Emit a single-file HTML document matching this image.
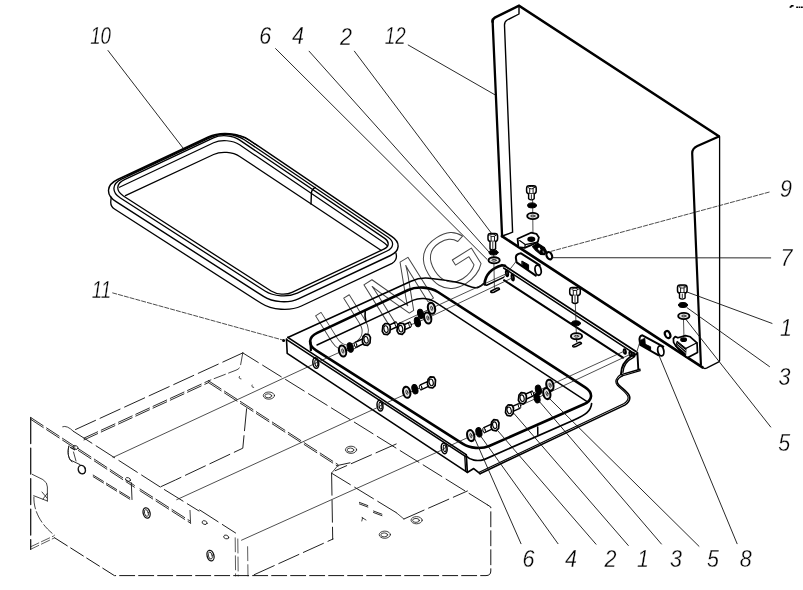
<!DOCTYPE html>
<html><head><meta charset="utf-8"><title>Exploded view</title>
<style>
html,body{margin:0;padding:0;background:#fff;}
body{width:803px;height:590px;overflow:hidden;}
svg{display:block;}
.lbl text{font-family:"Liberation Sans",sans-serif;font-style:italic;font-size:23.4px;fill:#000;stroke:#fff;stroke-width:0.3px;}
</style></head><body>
<svg width="803" height="590" viewBox="0 0 803 590" fill="none" stroke-linecap="round" stroke-linejoin="round">
<rect x="0" y="0" width="803" height="590" style="fill:#fff" stroke="none"/>
<text transform="translate(336.5,359.4) rotate(-32) scale(1.0,1.0)" font-family="Liberation Sans, sans-serif" font-size="70" fill="none" stroke="#444" stroke-width="0.9">U</text>
<text transform="translate(384.1,329.1) rotate(-32) scale(1.11,1.0)" font-family="Liberation Sans, sans-serif" font-size="70" fill="none" stroke="#444" stroke-width="0.9">M</text>
<text transform="translate(439.4,299.3) rotate(-32) scale(1.1,1.1)" font-family="Liberation Sans, sans-serif" font-size="70" fill="none" stroke="#444" stroke-width="0.9">G</text>
<path d="M116.1,201.7C105.4,194.8 106.1,184.9 117.6,179.5L208.2,137C220.2,131.4 238.8,132.8 249.7,140.3L392,236.7C400.7,242.6 400,251 390.5,255.5L298.4,298.8C288.4,303.5 272.8,302.4 263.5,296.4Z" stroke="#000" stroke-width="1.4" />
<path d="M120.4,198C111.3,192.2 111.9,183.8 121.6,179.2L211.4,137.1C220.9,132.6 235.6,133.8 244.3,139.7L388.1,237.2C394.5,241.5 394,247.7 387,251L297.3,293.2C288.1,297.5 273.6,296.6 265,291Z" stroke="#000" stroke-width="1.3" />
<path d="M123.4,196C115.5,190.9 116,183.5 124.5,179.6L213.4,137.8C220.9,134.3 232.6,135.2 239.4,139.9L384.7,238.4C389.7,241.8 389.3,246.6 383.8,249.2L292,292.3C286.1,295.2 276.7,294.5 271.1,291Z" stroke="#000" stroke-width="1.3" />
<path d="M127.5,175.6L209.6,137.1C221.1,131.7 238.9,133.2 249.4,140.3L257.5,145.8" stroke="#000" stroke-width="1.0" />
<path d="M119.5,187.3L213.6,142.8C221.1,139.3 232.7,140.2 239.6,144.8L382.6,241.8 Q385.5,243.6 387.6,246" stroke="#000" stroke-width="1.2" />
<path d="M125.4,195.6L213.6,154.5C221.1,151 232.8,151.9 239.7,156.5L381.3,250.5" stroke="#000" stroke-width="1.3" />
<path d="M111.2,197.2L110.8,201.3C110.5,204.1 112.2,207.5 114.5,209L261.2,303.3C271.9,310.2 289.9,311.4 301.4,306L392.1,263.4C395.1,261.9 397,258.2 396.3,254.9L395.9,252.8" stroke="#000" stroke-width="1.3" />
<path d="M315.3,187.4 Q311.6,189.5 311.4,193 L311,204" stroke="#000" stroke-width="1.4" />
<path d="M492.6,22 Q492.3,19 494.8,17.6 L519,5.6 L718.9,136.3" stroke="#000" stroke-width="2.5" stroke-linejoin="miter"/>
<path d="M492.6,21L502.1,236.4" stroke="#000" stroke-width="2.3" />
<path d="M519,5.8 L519,14 L507.2,20 Q504.3,21.6 504.5,25.5 L512.6,232.2 L502.2,236" stroke="#000" stroke-width="1.4" />
<path d="M501.9,236.2L702.5,367.3" stroke="#000" stroke-width="2.7" />
<path d="M718.9,136.4 L697.4,146 Q692.1,148.4 692.2,153.4 L694.5,210 L700.9,364.5" stroke="#000" stroke-width="2.2" />
<path d="M719.6,136.8 L719.6,360.5 Q719.5,361.6 718.3,362.2 L706.5,368.2 Q704.5,369 702.6,367.8" stroke="#000" stroke-width="1.3" />
<path d="M287.8,337.5 L411,281.3 C418,278 423,277.6 429,278.2 C440,279.3 452,280.6 461,283.2 C468,285.3 471,287.8 475.5,287.8 C479,287.8 481.5,285.6 483.5,283.6" stroke="#000" stroke-width="1.5" />
<path d="M287.8,337.4L466.2,454.6" stroke="#000" stroke-width="1.7" />
<path d="M286.6,339.6L465.8,456.6" stroke="#000" stroke-width="1.5" />
<path d="M286.5,339L287.2,353.4L467.3,472.4" stroke="#000" stroke-width="1.6" />
<path d="M466.3,454.8L467.3,472.4L473.7,468.6L480,473.7" stroke="#000" stroke-width="1.7" />
<path d="M464.8,456.5L465.6,470.5" stroke="#000" stroke-width="1.3" />
<circle cx="283.6" cy="340.6" r="1.5" fill="#000" stroke="none"/>
<ellipse cx="315.8" cy="363" rx="2.9" ry="5.4" transform="rotate(-8 315.8 363)" stroke="#000" stroke-width="1.5" fill="none"/>
<ellipse cx="316.3" cy="363" rx="1.4" ry="3.4" transform="rotate(-8 316.3 363)" stroke="#000" stroke-width="1.0" fill="none"/>
<ellipse cx="380" cy="405.7" rx="2.9" ry="5.4" transform="rotate(-8 380 405.7)" stroke="#000" stroke-width="1.5" fill="none"/>
<ellipse cx="380.5" cy="405.7" rx="1.4" ry="3.4" transform="rotate(-8 380.5 405.7)" stroke="#000" stroke-width="1.0" fill="none"/>
<ellipse cx="444.2" cy="448.3" rx="2.9" ry="5.4" transform="rotate(-8 444.2 448.3)" stroke="#000" stroke-width="1.5" fill="none"/>
<ellipse cx="444.7" cy="448.3" rx="1.4" ry="3.4" transform="rotate(-8 444.7 448.3)" stroke="#000" stroke-width="1.0" fill="none"/>
<path d="M480,473.7 L624.8,405.1 C628,403 630.5,400 629.6,396.5 C628.5,392 622,388.5 618.5,384.5 C616,381.5 617,378.5 622.3,375.9" stroke="#000" stroke-width="1.6" />
<path d="M479.2,472.2 L623.6,403.8 C626.5,402 628.6,399.5 628,396.8 C627,392.6 620.5,389 617.2,385 C614.6,381.6 615.8,377.6 621,374.3" stroke="#000" stroke-width="1.2" />
<path d="M316.1,350.3C307.7,344.9 308.2,337.2 317.2,332.9L408.2,290C416.7,286 430,286.9 437.9,292L585.2,387.3C593.5,392.7 592.9,400.3 583.8,404.3L489.2,446C481.6,449.3 469.8,448.4 462.9,443.9Z" stroke="#000" stroke-width="2.6" />
<path d="M310.5,342 L310.9,350.2" stroke="#000" stroke-width="2.2" />
<path d="M317,345L413.5,300.2C419.5,297.4 428.9,298.1 434.5,301.7L586.7,401.3" stroke="#000" stroke-width="1.4" />
<path d="M466.5,456.3 C470,460.2 477,461.6 484,459.6 L574,420 C585,415 591,411.5 591.6,403.5" stroke="#000" stroke-width="1.7" />
<path d="M537.7,427L537.8,434.4" stroke="#000" stroke-width="1.5" />
<path d="M365.2,311.6 Q364.6,315 365.8,320.6" stroke="#000" stroke-width="1.6" />
<path d="M504.6,265.8L636,351.6" stroke="#000" stroke-width="1.8" />
<path d="M503.6,268L634.4,353.6" stroke="#000" stroke-width="1.5" />
<path d="M504,280.2L623,357.6" stroke="#000" stroke-width="2.0" />
<path d="M484.6,284.2 C485,275.4 491.4,268 502,265.2 L505,265.8" stroke="#000" stroke-width="2.7" />
<path d="M484.2,284.6L486.6,285.2L503.6,277.4" stroke="#000" stroke-width="1.5" />
<ellipse cx="507" cy="273.3" rx="1.1" ry="3" transform="rotate(-8 507 273.3)" stroke="#000" stroke-width="1.9" fill="none"/>
<ellipse cx="512.7" cy="277.3" rx="1.1" ry="3.2" transform="rotate(-8 512.7 277.3)" stroke="#000" stroke-width="1.9" fill="none"/>
<path d="M621,373.8 C621.2,366 625.6,360 631,356.3 L636.6,354 L637.4,352.7 L638.3,369.2" stroke="#000" stroke-width="1.9" />
<path d="M622.9,372.4 C623.4,365.5 627.5,360.2 633.6,357.3" stroke="#000" stroke-width="1.4" />
<path d="M621.2,374.6L640,369.3" stroke="#000" stroke-width="1.5" />
<path d="M622,376L640.2,370.6" stroke="#000" stroke-width="1.3" />
<ellipse cx="624.8" cy="351.5" rx="1.1" ry="2.4" transform="rotate(-8 624.8 351.5)" stroke="#000" stroke-width="1.8" fill="none"/>
<ellipse cx="630.5" cy="353.8" rx="1.1" ry="2.4" transform="rotate(-8 630.5 353.8)" stroke="#000" stroke-width="1.8" fill="none"/>
<ellipse cx="633.8" cy="354.6" rx="0.9" ry="2.2" transform="rotate(-8 633.8 354.6)" stroke="#000" stroke-width="1.4" fill="none"/>
<path d="M532.6,199L533,238" stroke="#222" stroke-width="0.8" />
<rect x="526.6" y="185.7" width="9.6" height="8" rx="2.6" stroke="#000" stroke-width="1.5" fill="#fff"/>
<ellipse cx="531.4" cy="187.6" rx="3" ry="1.2" transform="rotate(0 531.4 187.6)" stroke="#000" stroke-width="0.9" fill="none"/>
<path d="M529.7,189.1L529.7,193.7" stroke="#000" stroke-width="0.9" />
<path d="M533.1,189.1L533.1,193.7" stroke="#000" stroke-width="0.9" />
<path d="M528.6,193.7 L528.6,198.7 Q531.4,201 534.2,198.7 L534.2,193.7" stroke="#000" stroke-width="1.4" fill="#fff"/>
<path d="M531.4,194.7L531.4,198.7" stroke="#000" stroke-width="0.8" />
<ellipse cx="532" cy="205.4" rx="4.5" ry="2.5" transform="rotate(0 532 205.4)" stroke="#000" stroke-width="1.0" fill="#000"/>
<ellipse cx="532.8" cy="216" rx="5.6" ry="3.1" transform="rotate(0 532.8 216)" stroke="#000" stroke-width="1.9" fill="#e4e4e4"/>
<ellipse cx="532.8" cy="216" rx="2.2" ry="0.9" transform="rotate(0 532.8 216)" stroke="#333" stroke-width="1.0" fill="none"/>
<path d="M493.6,248L494.4,288" stroke="#222" stroke-width="0.8" />
<rect x="488" y="233.4" width="9.6" height="8" rx="2.6" stroke="#000" stroke-width="1.5" fill="#fff"/>
<ellipse cx="492.8" cy="235.3" rx="3" ry="1.2" transform="rotate(0 492.8 235.3)" stroke="#000" stroke-width="0.9" fill="none"/>
<path d="M491.1,236.8L491.1,241.4" stroke="#000" stroke-width="0.9" />
<path d="M494.5,236.8L494.5,241.4" stroke="#000" stroke-width="0.9" />
<path d="M490,241.4 L490,248.9 Q492.8,251.2 495.6,248.9 L495.6,241.4" stroke="#000" stroke-width="1.4" fill="#fff"/>
<path d="M492.8,242.4L492.8,248.9" stroke="#000" stroke-width="0.8" />
<ellipse cx="493.5" cy="252.5" rx="4.5" ry="2.5" transform="rotate(0 493.5 252.5)" stroke="#000" stroke-width="1.0" fill="#000"/>
<ellipse cx="494.1" cy="260.3" rx="5.6" ry="3.1" transform="rotate(0 494.1 260.3)" stroke="#000" stroke-width="1.9" fill="#e4e4e4"/>
<ellipse cx="494.1" cy="260.3" rx="2.2" ry="0.9" transform="rotate(0 494.1 260.3)" stroke="#333" stroke-width="1.0" fill="none"/>
<path d="M490.8,291.2 L496.6,288.2 Q499.4,287.4 499.4,289.2 L493.8,292.2 Q490.4,293.2 490.8,291.2Z" stroke="#000" stroke-width="1.6" />
<path d="M575.3,303L576.4,336" stroke="#222" stroke-width="0.8" />
<rect x="569.7" y="287.4" width="10.6" height="8" rx="2.6" stroke="#000" stroke-width="1.5" fill="#fff"/>
<ellipse cx="575" cy="289.3" rx="3" ry="1.2" transform="rotate(0 575 289.3)" stroke="#000" stroke-width="0.9" fill="none"/>
<path d="M573.3,290.8L573.3,295.4" stroke="#000" stroke-width="0.9" />
<path d="M576.7,290.8L576.7,295.4" stroke="#000" stroke-width="0.9" />
<path d="M572.2,295.4 L572.2,302.4 Q575,304.7 577.8,302.4 L577.8,295.4" stroke="#000" stroke-width="1.4" fill="#fff"/>
<path d="M575,296.4L575,302.4" stroke="#000" stroke-width="0.8" />
<ellipse cx="575.9" cy="323.3" rx="4.5" ry="2.5" transform="rotate(0 575.9 323.3)" stroke="#000" stroke-width="1.0" fill="#000"/>
<ellipse cx="576.5" cy="336.2" rx="5.6" ry="3.1" transform="rotate(0 576.5 336.2)" stroke="#000" stroke-width="1.9" fill="#e4e4e4"/>
<ellipse cx="576.5" cy="336.2" rx="2.2" ry="0.9" transform="rotate(0 576.5 336.2)" stroke="#333" stroke-width="1.0" fill="none"/>
<path d="M576.5,339 L576.8,342" stroke="#000" stroke-width="1.0" />
<path d="M572.8,345.6 L578.6,342.6 Q581.4,341.8 581.4,343.6 L575.8,346.6 Q572.4,347.6 572.8,345.6Z" stroke="#000" stroke-width="1.6" />
<path d="M683.4,316L684,338" stroke="#222" stroke-width="0.8" />
<rect x="677.5" y="285" width="9.6" height="8" rx="2.6" stroke="#000" stroke-width="1.5" fill="#fff"/>
<ellipse cx="682.3" cy="286.9" rx="3" ry="1.2" transform="rotate(0 682.3 286.9)" stroke="#000" stroke-width="0.9" fill="none"/>
<path d="M680.6,288.4L680.6,293" stroke="#000" stroke-width="0.9" />
<path d="M684,288.4L684,293" stroke="#000" stroke-width="0.9" />
<path d="M679.5,293 L679.5,298 Q682.3,300.3 685.1,298 L685.1,293" stroke="#000" stroke-width="1.4" fill="#fff"/>
<path d="M682.3,294L682.3,298" stroke="#000" stroke-width="0.8" />
<ellipse cx="683" cy="305" rx="4.5" ry="2.5" transform="rotate(0 683 305)" stroke="#000" stroke-width="1.0" fill="#000"/>
<ellipse cx="683.8" cy="316" rx="5.6" ry="3.1" transform="rotate(0 683.8 316)" stroke="#000" stroke-width="1.9" fill="#e4e4e4"/>
<ellipse cx="683.8" cy="316" rx="2.2" ry="0.9" transform="rotate(0 683.8 316)" stroke="#333" stroke-width="1.0" fill="none"/>
<path d="M315.8,363L366,340.4" stroke="#222" stroke-width="0.8" />
<path d="M380,405.7L433,382" stroke="#222" stroke-width="0.8" />
<path d="M444.2,448.3L497,424.3" stroke="#222" stroke-width="0.8" />
<path d="M431.5,308.3L507,273.4" stroke="#222" stroke-width="0.8" />
<path d="M427.7,318L512.8,277.6" stroke="#222" stroke-width="0.8" />
<path d="M549.9,385.2L624.8,350.9" stroke="#222" stroke-width="0.8" />
<path d="M546.8,393.6L630.6,354.2" stroke="#222" stroke-width="0.8" />
<path d="M386,329.3L431.5,308.3" stroke="#222" stroke-width="0.8" />
<path d="M401,328.8L427.7,318" stroke="#222" stroke-width="0.8" />
<path d="M509.5,410.4L546.8,393.6" stroke="#222" stroke-width="0.8" />
<path d="M522.4,398.2L549.9,385.2" stroke="#222" stroke-width="0.8" />
<ellipse cx="342.6" cy="351" rx="3.5" ry="5.6" transform="rotate(-14 342.6 351)" stroke="#000" stroke-width="2.1" fill="#e4e4e4"/>
<ellipse cx="342.8" cy="351" rx="0.9" ry="2.2" transform="rotate(-14 342.8 351)" stroke="#333" stroke-width="0.9" fill="none"/>
<ellipse cx="350.2" cy="347.5" rx="2.9" ry="4.8" transform="rotate(-14 350.2 347.5)" stroke="#000" stroke-width="1.0" fill="#000"/>
<path d="M363.4,338.5L355.2,342.3L355.8,347.3L364,343.5Z" stroke="#000" stroke-width="1.4" fill="#fff"/>
<ellipse cx="355.5" cy="344.8" rx="1.2" ry="2.5" transform="rotate(-14 355.5 344.8)" stroke="#000" stroke-width="0.9" fill="#fff"/>
<path d="M363,336.6L365.2,334.2L368.8,334.6L370.4,337.4L370,343L367.6,345.4L364,344.8L362.4,342Z" stroke="#000" stroke-width="1.7" fill="#fff" stroke-linejoin="round"/>
<ellipse cx="366.1" cy="339.8" rx="2" ry="3.4" transform="rotate(-14 366.1 339.8)" stroke="#000" stroke-width="1.1" fill="none"/>
<ellipse cx="406.7" cy="392.3" rx="3.5" ry="5.6" transform="rotate(-14 406.7 392.3)" stroke="#000" stroke-width="2.1" fill="#e4e4e4"/>
<ellipse cx="406.9" cy="392.3" rx="0.9" ry="2.2" transform="rotate(-14 406.9 392.3)" stroke="#333" stroke-width="0.9" fill="none"/>
<ellipse cx="414.9" cy="389.2" rx="2.9" ry="4.8" transform="rotate(-14 414.9 389.2)" stroke="#000" stroke-width="1.0" fill="#000"/>
<path d="M428.5,381.1L420.3,384.9L420.9,389.9L429.1,386.1Z" stroke="#000" stroke-width="1.4" fill="#fff"/>
<ellipse cx="420.6" cy="387.4" rx="1.2" ry="2.5" transform="rotate(-14 420.6 387.4)" stroke="#000" stroke-width="0.9" fill="#fff"/>
<path d="M428.1,379.2L430.3,376.8L433.9,377.2L435.5,380L435.1,385.6L432.7,388L429.1,387.4L427.5,384.6Z" stroke="#000" stroke-width="1.7" fill="#fff" stroke-linejoin="round"/>
<ellipse cx="431.2" cy="382.4" rx="2" ry="3.4" transform="rotate(-14 431.2 382.4)" stroke="#000" stroke-width="1.1" fill="none"/>
<ellipse cx="470.7" cy="435.6" rx="3.5" ry="5.6" transform="rotate(-14 470.7 435.6)" stroke="#000" stroke-width="2.1" fill="#e4e4e4"/>
<ellipse cx="470.9" cy="435.6" rx="0.9" ry="2.2" transform="rotate(-14 470.9 435.6)" stroke="#333" stroke-width="0.9" fill="none"/>
<ellipse cx="478.9" cy="432.3" rx="2.9" ry="4.8" transform="rotate(-14 478.9 432.3)" stroke="#000" stroke-width="1.0" fill="#000"/>
<path d="M492,423.9L483.8,427.7L484.4,432.7L492.6,428.9Z" stroke="#000" stroke-width="1.4" fill="#fff"/>
<ellipse cx="484.1" cy="430.2" rx="1.2" ry="2.5" transform="rotate(-14 484.1 430.2)" stroke="#000" stroke-width="0.9" fill="#fff"/>
<path d="M491.6,422L493.8,419.6L497.4,420L499,422.8L498.6,428.4L496.2,430.8L492.6,430.2L491,427.4Z" stroke="#000" stroke-width="1.7" fill="#fff" stroke-linejoin="round"/>
<ellipse cx="494.7" cy="425.2" rx="2" ry="3.4" transform="rotate(-14 494.7 425.2)" stroke="#000" stroke-width="1.1" fill="none"/>
<ellipse cx="431.5" cy="308.3" rx="3.5" ry="5.6" transform="rotate(-14 431.5 308.3)" stroke="#000" stroke-width="2.1" fill="#e4e4e4"/>
<ellipse cx="431.7" cy="308.3" rx="0.9" ry="2.2" transform="rotate(-14 431.7 308.3)" stroke="#333" stroke-width="0.9" fill="none"/>
<ellipse cx="420.6" cy="313.9" rx="2.9" ry="4.8" transform="rotate(-14 420.6 313.9)" stroke="#000" stroke-width="1.0" fill="#000"/>
<path d="M388.7,325.4L396,322L396.6,327L389.3,330.4Z" stroke="#000" stroke-width="1.4" fill="#fff"/>
<ellipse cx="396.3" cy="324.5" rx="1.2" ry="2.5" transform="rotate(-14 396.3 324.5)" stroke="#000" stroke-width="0.9" fill="#fff"/>
<path d="M382.9,325.9L385.1,323.5L388.7,323.9L390.3,326.7L389.9,332.3L387.5,334.7L383.9,334.1L382.3,331.3Z" stroke="#000" stroke-width="1.7" fill="#fff" stroke-linejoin="round"/>
<ellipse cx="386" cy="329.1" rx="2" ry="3.4" transform="rotate(-14 386 329.1)" stroke="#000" stroke-width="1.1" fill="none"/>
<ellipse cx="427.7" cy="318" rx="3.5" ry="5.6" transform="rotate(-14 427.7 318)" stroke="#000" stroke-width="2.1" fill="#e4e4e4"/>
<ellipse cx="427.9" cy="318" rx="0.9" ry="2.2" transform="rotate(-14 427.9 318)" stroke="#333" stroke-width="0.9" fill="none"/>
<ellipse cx="417.4" cy="322" rx="2.9" ry="4.8" transform="rotate(-14 417.4 322)" stroke="#000" stroke-width="1.0" fill="#000"/>
<path d="M403.4,325L409.8,322.1L410.4,327.1L404,330Z" stroke="#000" stroke-width="1.4" fill="#fff"/>
<ellipse cx="410.1" cy="324.6" rx="1.2" ry="2.5" transform="rotate(-14 410.1 324.6)" stroke="#000" stroke-width="0.9" fill="#fff"/>
<path d="M397.6,325.5L399.8,323.1L403.4,323.5L405,326.3L404.6,331.9L402.2,334.3L398.6,333.7L397,330.9Z" stroke="#000" stroke-width="1.7" fill="#fff" stroke-linejoin="round"/>
<ellipse cx="400.7" cy="328.7" rx="2" ry="3.4" transform="rotate(-14 400.7 328.7)" stroke="#000" stroke-width="1.1" fill="none"/>
<ellipse cx="549.9" cy="385.2" rx="3.5" ry="5.6" transform="rotate(-14 549.9 385.2)" stroke="#000" stroke-width="2.1" fill="#e4e4e4"/>
<ellipse cx="550.1" cy="385.2" rx="0.9" ry="2.2" transform="rotate(-14 550.1 385.2)" stroke="#333" stroke-width="0.9" fill="none"/>
<ellipse cx="538.4" cy="389.8" rx="2.9" ry="4.8" transform="rotate(-14 538.4 389.8)" stroke="#000" stroke-width="1.0" fill="#000"/>
<path d="M524.8,394.5L532.1,391.1L532.7,396.1L525.4,399.5Z" stroke="#000" stroke-width="1.4" fill="#fff"/>
<ellipse cx="532.4" cy="393.6" rx="1.2" ry="2.5" transform="rotate(-14 532.4 393.6)" stroke="#000" stroke-width="0.9" fill="#fff"/>
<path d="M519,395L521.2,392.6L524.8,393L526.4,395.8L526,401.4L523.6,403.8L520,403.2L518.4,400.4Z" stroke="#000" stroke-width="1.7" fill="#fff" stroke-linejoin="round"/>
<ellipse cx="522.1" cy="398.2" rx="2" ry="3.4" transform="rotate(-14 522.1 398.2)" stroke="#000" stroke-width="1.1" fill="none"/>
<ellipse cx="546.8" cy="393.6" rx="3.5" ry="5.6" transform="rotate(-14 546.8 393.6)" stroke="#000" stroke-width="2.1" fill="#e4e4e4"/>
<ellipse cx="547" cy="393.6" rx="0.9" ry="2.2" transform="rotate(-14 547 393.6)" stroke="#333" stroke-width="0.9" fill="none"/>
<ellipse cx="537" cy="398.2" rx="2.9" ry="4.8" transform="rotate(-14 537 398.2)" stroke="#000" stroke-width="1.0" fill="#000"/>
<path d="M511.9,406.7L519.2,403.3L519.8,408.3L512.5,411.7Z" stroke="#000" stroke-width="1.4" fill="#fff"/>
<ellipse cx="519.5" cy="405.8" rx="1.2" ry="2.5" transform="rotate(-14 519.5 405.8)" stroke="#000" stroke-width="0.9" fill="#fff"/>
<path d="M506.1,407.2L508.3,404.8L511.9,405.2L513.5,408L513.1,413.6L510.7,416L507.1,415.4L505.5,412.6Z" stroke="#000" stroke-width="1.7" fill="#fff" stroke-linejoin="round"/>
<ellipse cx="509.2" cy="410.4" rx="2" ry="3.4" transform="rotate(-14 509.2 410.4)" stroke="#000" stroke-width="1.1" fill="none"/>
<path d="M539.6,265.2 L521,253.3 Q515,253.9 516,258.9 L516.6,262.4 L535.8,275.6" stroke="#000" stroke-width="2.0" fill="#fff"/>
<ellipse cx="538.1" cy="270.2" rx="3" ry="5.1" transform="rotate(-12 538.1 270.2)" stroke="#000" stroke-width="1.8" fill="#fff"/>
<path d="M522.2,261.2L528.6,264.8L528.6,269.6L522.2,266Z" stroke="#000" stroke-width="1.0" fill="#000"/>
<path d="M663.3,346.6 L642.4,335.3 Q638.7,335.9 639.7,341.1 L640.3,345 L658.2,355.2" stroke="#000" stroke-width="2.0" fill="#fff"/>
<ellipse cx="660.8" cy="350.9" rx="3" ry="5.1" transform="rotate(-12 660.8 350.9)" stroke="#000" stroke-width="1.8" fill="#fff"/>
<path d="M645.4,344.3L650.6,346.8L650.6,350.2L645.4,347.6Z" stroke="#000" stroke-width="1.0" fill="#000"/>
<path d="M640.2,340.4L644.8,338.2L645.6,347.6L640.6,344.9Z" stroke="#000" stroke-width="0.8" fill="#000"/>
<path d="M516,261.5L504,277" stroke="#222" stroke-width="0.8" />
<path d="M639.5,343L636.5,353" stroke="#222" stroke-width="0.8" />
<path d="M517.6,238.8L531,232.7L536.4,233.8L538.9,237.4L537.8,242L531,245.2L524.6,247.8L518.4,247.2Z" stroke="#000" stroke-width="1.8" fill="#fff" stroke-linejoin="round"/>
<path d="M519.6,240.6L525.2,244.6L524.8,247.6" stroke="#000" stroke-width="1.2" />
<path d="M525.2,244.6L537.4,242.2" stroke="#000" stroke-width="1.2" />
<ellipse cx="531.3" cy="239.2" rx="3.3" ry="2.1" transform="rotate(0 531.3 239.2)" stroke="#000" stroke-width="1.4" fill="#000"/>
<path d="M532.6,246.6L537.6,243.2L544.2,247.4L546.4,251.4L544.4,254.6L540.6,254.4L536,250.6Z" stroke="#000" stroke-width="1.2" fill="#000" stroke-linejoin="round"/>
<ellipse cx="539.3" cy="249.2" rx="1.5" ry="2" transform="rotate(-30 539.3 249.2)" stroke="#000" stroke-width="0.8" fill="#fff"/>
<ellipse cx="543.4" cy="251.8" rx="0.9" ry="1.5" transform="rotate(-30 543.4 251.8)" stroke="#000" stroke-width="0.6" fill="#bbb"/>
<ellipse cx="549.3" cy="255.7" rx="2.6" ry="3.8" transform="rotate(-25 549.3 255.7)" stroke="#000" stroke-width="2.2" fill="none"/>
<path d="M673.4,338.6L675.2,336.6L677.9,337.8L685.5,335.6L690.2,336.8L697,342.8L697.5,352.4L687.9,357.6L685.4,356.4L676,346.2L673.6,342.4Z" stroke="#000" stroke-width="1.7" fill="#fff" stroke-linejoin="round"/>
<path d="M677.4,341.4L686,348.4L685.6,356.4L676,346.4Z" stroke="#000" stroke-width="1.0" fill="#000"/>
<path d="M677.6,343.8L685.8,350.6" stroke="#fff" stroke-width="0.7" />
<path d="M677.4,345.8L685.6,353" stroke="#fff" stroke-width="0.7" />
<path d="M686,348.4L697,342.8" stroke="#000" stroke-width="1.2" />
<ellipse cx="683.6" cy="339.7" rx="2.8" ry="1.7" transform="rotate(0 683.6 339.7)" stroke="#000" stroke-width="1.3" fill="#000"/>
<ellipse cx="667.6" cy="334.6" rx="2.5" ry="3.7" transform="rotate(-25 667.6 334.6)" stroke="#000" stroke-width="2.2" fill="none"/>
<path d="M30.7,417.5L30.7,549.3" stroke="#151515" stroke-width="1.25" stroke-dasharray="26 4.5"/>
<path d="M30.6,549.3 L54.6,537.8 M30.6,546.8 L53.6,536" stroke="#151515" stroke-width="0.7" stroke-dasharray="9 3"/>
<path d="M54.6,537.8 L114.4,575.6 L486,575.6 Q490.8,575.6 490.8,571 L490.8,507 L487.7,505" stroke="#151515" stroke-width="1.0" stroke-dasharray="15 4"/>
<path d="M487.7,505L242.8,352.9" stroke="#151515" stroke-width="0.95" stroke-dasharray="22 5"/>
<path d="M242.8,352.9L73.4,430.5" stroke="#151515" stroke-width="0.95" stroke-dasharray="22 5"/>
<path d="M62.7,426.7 Q67,425 73.4,431.3" stroke="#151515" stroke-width="0.8" />
<path d="M73.4,431.3L160.2,487L199,511" stroke="#151515" stroke-width="0.95" stroke-dasharray="22 5"/>
<path d="M30.7,417.5L134.4,485.4" stroke="#151515" stroke-width="0.9" stroke-dasharray="15 4"/>
<path d="M30.7,419.3L134.4,487.2" stroke="#151515" stroke-width="0.9" stroke-dasharray="15 4"/>
<path d="M140,489L190,521" stroke="#151515" stroke-width="0.9" stroke-dasharray="15 4"/>
<path d="M140,490.8L190,522.8" stroke="#151515" stroke-width="0.9" stroke-dasharray="15 4"/>
<path d="M190,510.4L190.6,523.5" stroke="#151515" stroke-width="0.8" />
<path d="M199.6,509.9L235.6,533" stroke="#151515" stroke-width="0.95" stroke-dasharray="22 5"/>
<path d="M84,438.1L208.5,380.8" stroke="#151515" stroke-width="0.9" stroke-dasharray="15 4"/>
<path d="M84,439.9L208.5,382.6" stroke="#151515" stroke-width="0.9" stroke-dasharray="15 4"/>
<path d="M208.5,380.8L338,464.6" stroke="#151515" stroke-width="0.9" stroke-dasharray="15 4"/>
<path d="M208.5,382.6L338,466.4" stroke="#151515" stroke-width="0.9" stroke-dasharray="15 4"/>
<path d="M242.8,352.9 L240.4,366 Q239.5,369 236,370.2 L208.5,380.8" stroke="#151515" stroke-width="0.8" stroke-dasharray="12 3.5"/>
<path d="M246.6,408.8L242.8,448.2L175.4,480L160.2,487" stroke="#151515" stroke-width="0.95" stroke-dasharray="22 5"/>
<path d="M396.2,444L335.2,470.7" stroke="#151515" stroke-width="0.95" stroke-dasharray="22 5"/>
<path d="M331.6,473.2L332.7,539.3" stroke="#151515" stroke-width="0.95" stroke-dasharray="22 5"/>
<path d="M331.6,473.2L396.2,512.6" stroke="#151515" stroke-width="0.95" stroke-dasharray="22 5"/>
<path d="M396.2,512.6L403.9,519" stroke="#151515" stroke-width="0.8" />
<path d="M403.9,519L467.4,491" stroke="#151515" stroke-width="0.95" stroke-dasharray="22 5"/>
<path d="M254.2,574.7L333,539" stroke="#151515" stroke-width="0.95" stroke-dasharray="22 5"/>
<path d="M235.2,537.8L235.6,576" stroke="#151515" stroke-width="0.7" stroke-dasharray="14 4"/>
<path d="M237.8,539L238.2,576" stroke="#151515" stroke-width="0.7" stroke-dasharray="14 4"/>
<path d="M247.6,546.7L248,576" stroke="#151515" stroke-width="0.7" stroke-dasharray="14 4"/>
<path d="M338,465.4L332,472.6" stroke="#151515" stroke-width="0.8" />
<path d="M338,465.4L350,462.8" stroke="#151515" stroke-width="0.95" stroke-dasharray="22 5"/>
<path d="M32.2,474.3 L42.9,479.6 Q47.6,482.5 47.4,487 L47.4,501 M47.4,501 L33.7,495.7 M42,492 L47,498 M43,499 L47.2,493.5" stroke="#151515" stroke-width="0.8" />
<path d="M33.9,497 C33.5,510 40,524 54.6,535.3" stroke="#151515" stroke-width="0.8" stroke-dasharray="12 3"/>
<path d="M93.2,475.1L129.8,497.6" stroke="#151515" stroke-width="0.9" stroke-dasharray="12 3.5"/>
<path d="M93.2,476.7L129.8,499.2" stroke="#151515" stroke-width="0.9" stroke-dasharray="12 3.5"/>
<path d="M131.3,482.7L132,499.5" stroke="#151515" stroke-width="0.9" />
<path d="M68.8,446.1 C67.4,452 68.4,458 70.3,460 L80,464.6" stroke="#151515" stroke-width="0.9" />
<path d="M70.6,447.4 L74.6,449.8" stroke="#151515" stroke-width="1.2" />
<path d="M359.4,502.4L370,506.4" stroke="#151515" stroke-width="0.9" stroke-dasharray="9 3"/>
<path d="M359.4,503.9L370,507.9" stroke="#151515" stroke-width="0.9" stroke-dasharray="9 3"/>
<path d="M373.5,511L382.5,514.4" stroke="#151515" stroke-width="0.9" stroke-dasharray="9 3"/>
<path d="M373.5,512.5L382.5,515.9" stroke="#151515" stroke-width="0.9" stroke-dasharray="9 3"/>
<path d="M362,517.6 L366,520 M362.6,517.6 L361.8,521" stroke="#151515" stroke-width="0.8" />
<path d="M113,457.4L315.8,363.2" stroke="#222" stroke-width="0.8" />
<path d="M176.7,499.7L380,406.4" stroke="#222" stroke-width="0.8" />
<path d="M241.5,540.2L444.2,449" stroke="#222" stroke-width="0.8" />
<ellipse cx="268.9" cy="395.6" rx="5.6" ry="3.6" transform="rotate(0 268.9 395.6)" stroke="#151515" stroke-width="0.8" fill="none"/>
<ellipse cx="268.3" cy="395.8" rx="3.4" ry="2" transform="rotate(0 268.3 395.8)" stroke="#151515" stroke-width="0.8" fill="none"/>
<ellipse cx="351" cy="449.8" rx="5.6" ry="3.6" transform="rotate(0 351 449.8)" stroke="#151515" stroke-width="0.8" fill="none"/>
<ellipse cx="350.4" cy="450" rx="3.4" ry="2" transform="rotate(0 350.4 450)" stroke="#151515" stroke-width="0.8" fill="none"/>
<ellipse cx="416.6" cy="520.2" rx="5.6" ry="3.6" transform="rotate(0 416.6 520.2)" stroke="#151515" stroke-width="0.8" fill="none"/>
<ellipse cx="416" cy="520.4" rx="3.4" ry="2" transform="rotate(0 416 520.4)" stroke="#151515" stroke-width="0.8" fill="none"/>
<ellipse cx="384.8" cy="534.7" rx="5.6" ry="3.6" transform="rotate(0 384.8 534.7)" stroke="#151515" stroke-width="0.8" fill="none"/>
<ellipse cx="384.2" cy="534.9" rx="3.4" ry="2" transform="rotate(0 384.2 534.9)" stroke="#151515" stroke-width="0.8" fill="none"/>
<ellipse cx="81.8" cy="469.6" rx="3.5" ry="4.3" transform="rotate(-15 81.8 469.6)" stroke="#111" stroke-width="1.4" fill="none"/>
<path d="M84.5,473.5 Q86.5,471.5 85.5,468" stroke="#151515" stroke-width="0.9" />
<ellipse cx="146.6" cy="513" rx="3.4" ry="5.2" transform="rotate(-15 146.6 513)" stroke="#111" stroke-width="1.3" fill="none"/>
<ellipse cx="146.4" cy="513" rx="1.9" ry="3.5" transform="rotate(-15 146.4 513)" stroke="#151515" stroke-width="0.8" fill="none"/>
<ellipse cx="210.5" cy="555.6" rx="3.4" ry="5.4" transform="rotate(-15 210.5 555.6)" stroke="#111" stroke-width="1.3" fill="none"/>
<ellipse cx="210.3" cy="555.6" rx="1.9" ry="3.6" transform="rotate(-15 210.3 555.6)" stroke="#151515" stroke-width="0.8" fill="none"/>
<path d="M241,377.5 m-1.6,-1 q-1.2,2.2 1.6,2.4 M253.7,386 m-1.6,-1 q-1.2,2.2 1.6,2.4" stroke="#151515" stroke-width="0.8" />
<ellipse cx="204.6" cy="522.6" rx="2.6" ry="1.8" transform="rotate(20 204.6 522.6)" stroke="#151515" stroke-width="0.8" fill="none"/>
<ellipse cx="226.2" cy="537" rx="2.6" ry="1.8" transform="rotate(20 226.2 537)" stroke="#151515" stroke-width="0.8" fill="none"/>
<ellipse cx="75.6" cy="447.5" rx="2.6" ry="1.8" transform="rotate(20 75.6 447.5)" stroke="#151515" stroke-width="0.8" fill="none"/>
<ellipse cx="128" cy="479.5" rx="2.6" ry="1.8" transform="rotate(20 128 479.5)" stroke="#151515" stroke-width="0.8" fill="none"/>
<path d="M69,446 C67,452 68,458 72,462 M73.5,452 L76,461" stroke="#151515" stroke-width="0.8" />
<path d="M108,50.5L183,148" stroke="#111" stroke-width="0.9" />
<path d="M275.6,48.6L487,259.3" stroke="#111" stroke-width="0.9" />
<path d="M309.1,51.2L489,252" stroke="#111" stroke-width="0.9" />
<path d="M354.4,51.2L492,234" stroke="#111" stroke-width="0.9" />
<path d="M408.2,45L494.6,94.6" stroke="#111" stroke-width="0.9" />
<path d="M769.5,192L550.8,251.4" stroke="#111" stroke-width="0.75" stroke-dasharray="5 1" stroke-linecap="butt"/>
<path d="M770.7,257.9L552.7,257.7" stroke="#111" stroke-width="0.9" />
<path d="M772,323.4L687,292" stroke="#111" stroke-width="0.9" />
<path d="M769.5,366.6L686.9,307.6" stroke="#111" stroke-width="0.9" />
<path d="M770.7,427L685.6,319" stroke="#111" stroke-width="0.9" />
<path d="M737.1,543.7L659.4,356.4" stroke="#111" stroke-width="0.9" />
<path d="M112.3,292.8L283.4,340.2" stroke="#111" stroke-width="0.75" stroke-dasharray="5 1" stroke-linecap="butt"/>
<path d="M521,543.7L474.2,437.4" stroke="#111" stroke-width="0.9" />
<path d="M558,543.7L481.3,437" stroke="#111" stroke-width="0.9" />
<path d="M596,544.2L498,431" stroke="#111" stroke-width="0.9" />
<path d="M628.3,545.5L514,413.5" stroke="#111" stroke-width="0.9" />
<path d="M661.4,544L539.2,401.3" stroke="#111" stroke-width="0.9" />
<path d="M699,546.3L549.1,398.2" stroke="#111" stroke-width="0.9" />
<path d="M789.6,7.2 L790.8,7.0 L791.4,5.9 L793.6,5.7" stroke="#000" stroke-width="1.6" stroke-linecap="butt"/>
<path d="M796.2,7.3 L803,7.3" stroke="#000" stroke-width="1.5" stroke-dasharray="1.8 0.6" stroke-linecap="butt"/>
<g class="lbl" opacity="0.999">
<text transform="translate(100.6,44) scale(0.8,1)" text-anchor="middle">10</text>
<text transform="translate(265.2,44.3) scale(0.92,1)" text-anchor="middle">6</text>
<text transform="translate(298,44.3) scale(0.92,1)" text-anchor="middle">4</text>
<text transform="translate(346,45.2) scale(0.92,1)" text-anchor="middle">2</text>
<text transform="translate(395.2,43.8) scale(0.8,1)" text-anchor="middle">12</text>
<text transform="translate(786,197) scale(0.92,1)" text-anchor="middle">9</text>
<text transform="translate(786.5,266) scale(0.92,1)" text-anchor="middle">7</text>
<text transform="translate(786,336) scale(0.92,1)" text-anchor="middle">1</text>
<text transform="translate(784.5,385) scale(0.92,1)" text-anchor="middle">3</text>
<text transform="translate(784.3,451.4) scale(0.92,1)" text-anchor="middle">5</text>
<text transform="translate(101.5,297.8) scale(0.8,1)" text-anchor="middle">11</text>
<text transform="translate(528.5,567) scale(0.92,1)" text-anchor="middle">6</text>
<text transform="translate(571,567) scale(0.92,1)" text-anchor="middle">4</text>
<text transform="translate(610.5,567) scale(0.92,1)" text-anchor="middle">2</text>
<text transform="translate(643,567) scale(0.92,1)" text-anchor="middle">1</text>
<text transform="translate(676,567) scale(0.92,1)" text-anchor="middle">3</text>
<text transform="translate(713,567) scale(0.92,1)" text-anchor="middle">5</text>
<text transform="translate(745.8,567) scale(0.92,1)" text-anchor="middle">8</text>
</g>
</svg>
</body></html>
